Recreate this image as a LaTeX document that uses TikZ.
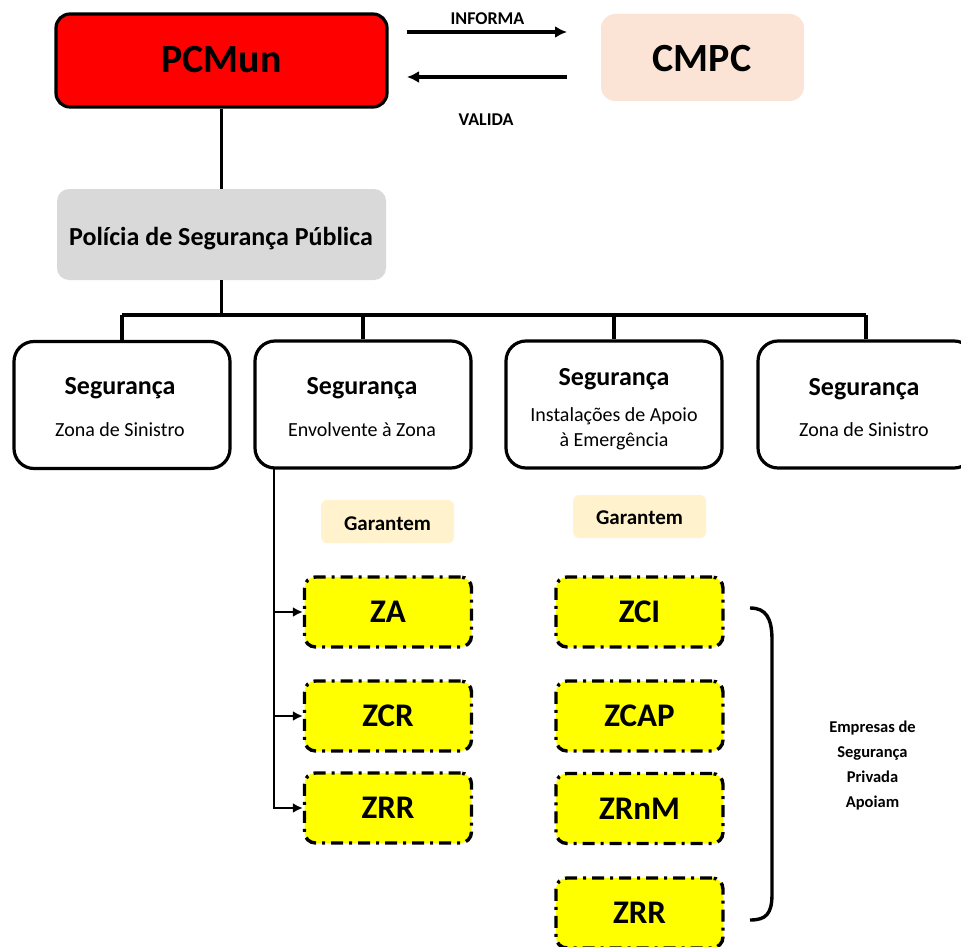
\documentclass[tikz,border=0pt]{standalone}
\usepackage{fontspec}
\setmainfont{Carlito}
\usetikzlibrary{arrows.meta}
\definecolor{pcred}{HTML}{FF0000}
\definecolor{peach}{HTML}{FBE4D5}
\definecolor{greybox}{HTML}{D9D9D9}
\definecolor{cream}{HTML}{FFF2CC}
\definecolor{zoneyellow}{HTML}{FFFF00}
\begin{document}
\begin{tikzpicture}[x=1pt,y=-1pt,
  bigbox/.style={rounded corners=14pt, minimum width=#1, inner sep=0pt, align=center},
  segbox/.style={draw, line width=3.2pt, rounded corners=20pt, minimum width=216pt, minimum height=127pt, inner sep=0pt},
  segtitle/.style={anchor=base, font=\bfseries\fontsize{26}{30}\selectfont, inner sep=0pt},
  segsub/.style={anchor=base, font=\fontsize{20}{24}\selectfont, inner sep=0pt},
  garbox/.style={fill=cream, rounded corners=6pt, minimum width=133pt, minimum height=43pt, inner sep=0pt},
  gartext/.style={anchor=base, font=\bfseries\fontsize{21}{24}\selectfont, inner sep=0pt},
  zonebox/.style={draw, fill=zoneyellow, line width=3.4pt, dash pattern=on 12pt off 6pt on 3pt off 6pt, rounded corners=11pt, minimum width=167pt, minimum height=70pt, inner sep=0pt, font=\bfseries\fontsize{33}{36}\selectfont},
  treeline/.style={line width=3.4pt},
  conn/.style={line width=2.8pt, -{Latex[length=10pt,width=10pt]}},
  toparrow/.style={line width=3.4pt, -{Latex[length=12pt,width=12pt]}},
  smalllabel/.style={anchor=base, font=\bfseries\fontsize{18}{20}\selectfont, inner sep=0pt}
]
\useasboundingbox (0,0) rectangle (961,947);

% top row
\node[bigbox=331pt, minimum height=93pt, draw, line width=3.2pt, fill=pcred] (pc) at (221.5,60.5) {};
\node[anchor=base, font=\bfseries\fontsize{40}{44}\selectfont, inner sep=0pt] (pct) at (221.5,73) {PCMun};
\node[bigbox=203pt, minimum height=87pt, fill=peach] (cmpc) at (702.5,57.5) {};
\node[anchor=base, font=\bfseries\fontsize{40}{44}\selectfont, inner sep=0pt] (cmpct) at (702,72) {CMPC};

\coordinate (ia) at (407,32);
\coordinate (ib) at (567,32);
\coordinate (va) at (567,77);
\coordinate (vb) at (407,77);
\draw[toparrow] (ia) -- (ib);
\draw[toparrow] (va) -- (vb);
\node[smalllabel] (inf) at (487.5,25) {INFORMA};
\node[smalllabel] (val) at (486,126) {VALIDA};

% PSP
\node[bigbox=329pt, minimum height=91pt, fill=greybox, rounded corners=12pt] (psp) at (221.5,234.5) {};
\node[anchor=base, font=\bfseries\fontsize{26}{30}\selectfont, inner sep=0pt] (pspt) at (221,245) {Polícia de Segurança Pública};
\draw[treeline] (pc.south) -- (psp.north);

% security boxes
\node[segbox] (s1) at (122,405) {};
\node[segbox] (s2) at (363,404.5) {};
\node[segbox] (s3) at (614,404.5) {};
\node[segbox] (s4) at (866,404.5) {};

\node[segtitle] (s1a) at (120,394) {Segurança};
\node[segsub] (s1b) at (120,436) {Zona de Sinistro};
\node[segtitle] (s2a) at (362,394) {Segurança};
\node[segsub] (s2b) at (362,436) {Envolvente à Zona};
\node[segtitle] (s3a) at (614,385) {Segurança};
\node[segsub] (s3b) at (614,421) {Instalações de Apoio};
\node[segsub] (s3c) at (614,446) {à Emergência};
\node[segtitle] (s4a) at (864,395) {Segurança};
\node[segsub] (s4b) at (864,436) {Zona de Sinistro};

% tree
\coordinate (bar) at (224,315);
\draw[treeline] (psp.south) -- (psp.south |- bar);
\draw[treeline] (s1.north |- bar) -- (s4.north |- bar);
\draw[treeline] (s1.north) -- (s1.north |- bar);
\draw[treeline] (s2.north) -- (s2.north |- bar);
\draw[treeline] (s3.north) -- (s3.north |- bar);
\draw[treeline] (s4.north) -- (s4.north |- bar);

% Garantem
\node[garbox] (g1) at (387.5,521.5) {};
\node[gartext] (g1t) at (387.5,530) {Garantem};
\node[garbox] (g2) at (639.5,516.5) {};
\node[gartext] (g2t) at (639.5,524) {Garantem};

% zones left
\node[zonebox] (za) at (388,612) {ZA};
\node[zonebox] (zcr) at (388,716) {ZCR};
\node[zonebox] (zrr1) at (388,808) {ZRR};
% zones right
\node[zonebox] (zci) at (639.5,612) {ZCI};
\node[zonebox] (zcap) at (639.5,716) {ZCAP};
\node[zonebox] (zrnm) at (639.5,808.5) {ZRnM};
\node[zonebox] (zrr2) at (639.5,913) {ZRR};

% connectors left
\coordinate (vtop) at (274,468);
\draw[conn] (vtop) |- (za.west);
\draw[conn] (vtop) |- (zcr.west);
\draw[conn] (vtop) |- (zrr1.west);

% brace
\draw[line width=3.4pt] (750,608) .. controls (766,608) and (772,618) .. (772,640) -- (772,894) .. controls (772,914) and (766,920) .. (750,920);
\node[align=center, font=\bfseries\fontsize{16.5}{25}\selectfont, inner sep=0pt] (emp) at (872.5,766) {Empresas de\\Segurança\\Privada\\Apoiam};
\end{tikzpicture}
\end{document}
